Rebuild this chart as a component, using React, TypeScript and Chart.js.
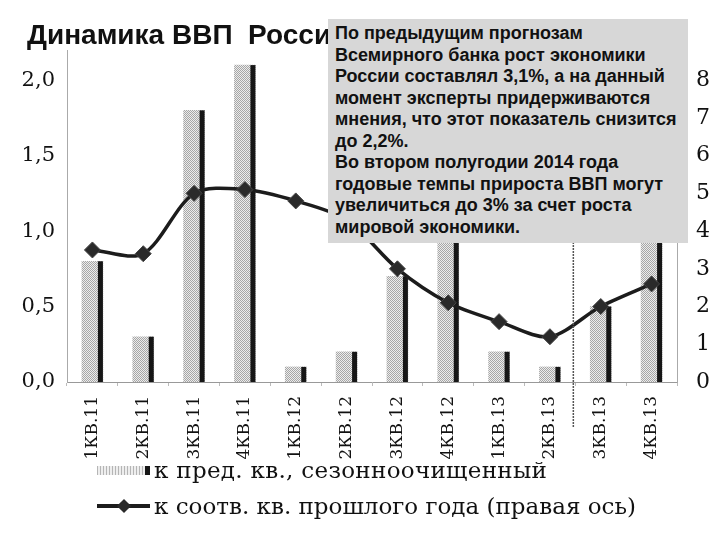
import React, { useEffect, useRef } from 'react'
import { Chart, registerables } from 'chart.js'

Chart.register(...registerables)

const quarters = [
  '1КВ.11', '2КВ.11', '3КВ.11', '4КВ.11',
  '1КВ.12', '2КВ.12', '3КВ.12', '4КВ.12',
  '1КВ.13', '2КВ.13', '3КВ.13', '4КВ.13',
]
// к пред. кв., сезонноочищенный (левая ось)
const qoqSA = [0.8, 0.3, 1.8, 2.1, 0.1, 0.2, 0.7, 1.2, 0.2, 0.1, 0.5, 1.1]
// к соотв. кв. прошлого года (правая ось)
const yoy = [3.5, 3.4, 5.0, 5.1, 4.8, 4.3, 3.0, 2.1, 1.6, 1.2, 2.0, 2.6]

const leftMax = 2.2
const rightMax = 8.8

const noteLines = [
  'По предыдущим прогнозам',
  'Всемирного банка рост экономики',
  'России составлял 3,1%, а на данный',
  'момент эксперты придерживаются',
  'мнения, что этот показатель снизится',
  'до 2,2%.',
  'Во втором полугодии 2014 года',
  'годовые темпы прироста ВВП могут',
  'увеличиться до 3% за счет роста',
  'мировой экономики.',
]

const serif = '"DejaVu Serif", serif'
const sans = '"Liberation Sans", Arial, sans-serif'

const makeStipple = (ctx: CanvasRenderingContext2D) => {
  const c = document.createElement('canvas')
  c.width = 2
  c.height = 2
  const g = c.getContext('2d')!
  g.fillStyle = '#ececec'
  g.fillRect(0, 0, 2, 2)
  g.fillStyle = '#a6a6a6'
  g.fillRect(0, 0, 1, 1)
  g.fillRect(1, 1, 1, 1)
  return ctx.createPattern(c, 'repeat')
}

// тёмная грань справа у каждого столбика
const barEdge = {
  id: 'barEdge',
  afterDatasetDraw(chart: any, args: any) {
    if (args.index !== 0) return
    const ctx = chart.ctx
    ctx.save()
    ctx.fillStyle = '#161616'
    args.meta.data.forEach((el: any) => {
      const { x, y, base, width } = el.getProps(['x', 'y', 'base', 'width'], true)
      ctx.fillRect(x + width / 2 - 5, y, 5, base - y)
    })
    ctx.restore()
  },
}

// вертикальная пунктирная линия между 2КВ.13 и 3КВ.13
const divider = {
  id: 'divider',
  afterDraw(chart: any) {
    const xs = chart.scales.x
    const x = (xs.getPixelForValue(9) + xs.getPixelForValue(10)) / 2 - 2
    const ctx = chart.ctx
    ctx.save()
    ctx.strokeStyle = '#555'
    ctx.lineWidth = 1.5
    ctx.setLineDash([2, 1])
    ctx.beginPath()
    ctx.moveTo(x, chart.chartArea.top)
    ctx.lineTo(x, chart.chartArea.bottom + 45)
    ctx.stroke()
    ctx.restore()
  },
}

const BarChart: React.FC = () => {
  const chartRef = useRef<HTMLCanvasElement | null>(null)

  useEffect(() => {
    if (!chartRef.current) return
    const ctx = chartRef.current.getContext('2d')
    if (!ctx) return

    const myChart = new Chart(ctx, {
      type: 'bar',
      data: {
        labels: quarters,
        datasets: [
          {
            type: 'bar',
            label: 'к пред. кв., сезонноочищенный',
            data: qoqSA,
            yAxisID: 'y',
            backgroundColor: makeStipple(ctx) as any,
            borderWidth: 0,
            barThickness: 21,
            order: 1,
          },
          {
            type: 'line',
            label: 'к соотв. кв. прошлого года (правая ось)',
            data: yoy,
            yAxisID: 'y1',
            borderColor: '#1c1c1c',
            borderWidth: 3.5,
            backgroundColor: '#2a2a2a',
            pointStyle: 'rectRot',
            pointRadius: 8,
            pointBorderWidth: 1,
            pointBorderColor: '#444',
            tension: 0.3,
            order: 0,
          },
        ],
      },
      options: {
        responsive: true,
        maintainAspectRatio: false,
        animation: false,
        layout: { padding: { top: 50, left: 0, right: 0, bottom: 0 } },
        plugins: {
          legend: { display: false },
          title: { display: false },
          tooltip: { enabled: false },
        },
        scales: {
          x: {
            grid: {
              display: true,
              drawOnChartArea: false,
              drawTicks: true,
              tickLength: 4,
              color: '#bbb',
              offset: true,
            },
            border: { display: true, color: '#999', dash: [1, 3] },
            ticks: {
              minRotation: 90,
              maxRotation: 90,
              padding: 10,
              color: '#111',
              font: { family: serif, size: 17 },
            },
            afterFit: (s: any) => {
              s.height = 88
            },
          },
          y: {
            position: 'left',
            min: 0,
            max: leftMax,
            grid: { display: false, drawTicks: false },
            border: { display: true, color: '#aaa', dash: [1, 2] },
            ticks: {
              stepSize: 0.5,
              includeBounds: false,
              padding: 12,
              color: '#111',
              font: { family: serif, size: 21 },
              callback: (v: any) => Number(v).toFixed(1).replace('.', ','),
            },
            afterFit: (s: any) => {
              s.width = 67
            },
          },
          y1: {
            position: 'right',
            min: 0,
            max: rightMax,
            grid: { display: false, drawTicks: false },
            border: { display: true, color: '#aaa', dash: [1, 2] },
            ticks: {
              stepSize: 1,
              includeBounds: false,
              padding: 19,
              color: '#111',
              font: { family: serif, size: 22 },
            },
            afterFit: (s: any) => {
              s.width = 43
            },
          },
        },
      },
      plugins: [barEdge, divider],
    })

    return () => {
      myChart.destroy()
    }
  }, [])

  return (
    <div style={{ position: 'absolute', left: 0, top: 0, width: 720, height: 470 }}>
      <canvas ref={chartRef} />
    </div>
  )
}

const Legend: React.FC = () => {
  const text: React.CSSProperties = {
    fontFamily: serif,
    fontSize: 23,
    color: '#111',
    marginLeft: 4,
    whiteSpace: 'nowrap',
  }
  const row: React.CSSProperties = {
    display: 'flex',
    alignItems: 'center',
    height: 36,
  }
  return (
    <div style={{ position: 'absolute', left: 97, top: 452 }}>
      <div style={row}>
        <div
          style={{
            width: 48,
            height: 9,
            background: 'repeating-linear-gradient(90deg, #b5b5b5 0 1px, #eeeeee 1px 3px)',
            borderRight: '5px solid #161616',
          }}
        />
        <span style={{ ...text, letterSpacing: 0.3 }}>к пред. кв., сезонноочищенный</span>
      </div>
      <div style={row}>
        <div style={{ position: 'relative', width: 53, height: 14 }}>
          <div style={{ position: 'absolute', left: 0, top: 5, width: 53, height: 4, background: '#1c1c1c' }} />
          <div
            style={{
              position: 'absolute',
              left: 22,
              top: 2,
              width: 10,
              height: 10,
              background: '#2a2a2a',
              transform: 'rotate(45deg)',
            }}
          />
        </div>
        <span style={text}>к соотв. кв. прошлого года (правая ось)</span>
      </div>
    </div>
  )
}

const App: React.FC = () => {
  return (
    <div
      style={{
        position: 'absolute',
        left: 0,
        top: 0,
        width: 720,
        height: 540,
        background: '#fff',
        overflow: 'hidden',
      }}
    >
      <BarChart />
      <div
        style={{
          position: 'absolute',
          left: 27,
          top: 19,
          fontFamily: sans,
          fontWeight: 'bold',
          fontSize: 28,
          color: '#111',
          whiteSpace: 'nowrap',
        }}
      >
        Динамика ВВП&nbsp;&nbsp;России
      </div>
      <div
        style={{
          position: 'absolute',
          left: 328,
          top: 19,
          width: 360,
          height: 224,
          boxSizing: 'border-box',
          padding: '4px 7px',
          background: '#d7d7d7',
          fontFamily: sans,
          fontWeight: 'bold',
          fontSize: 18,
          lineHeight: '21.5px',
          color: '#111',
          whiteSpace: 'nowrap',
          overflow: 'hidden',
        }}
      >
        {noteLines.map((l) => (
          <div key={l}>{l}</div>
        ))}
      </div>
      <Legend />
    </div>
  )
}

export default App
